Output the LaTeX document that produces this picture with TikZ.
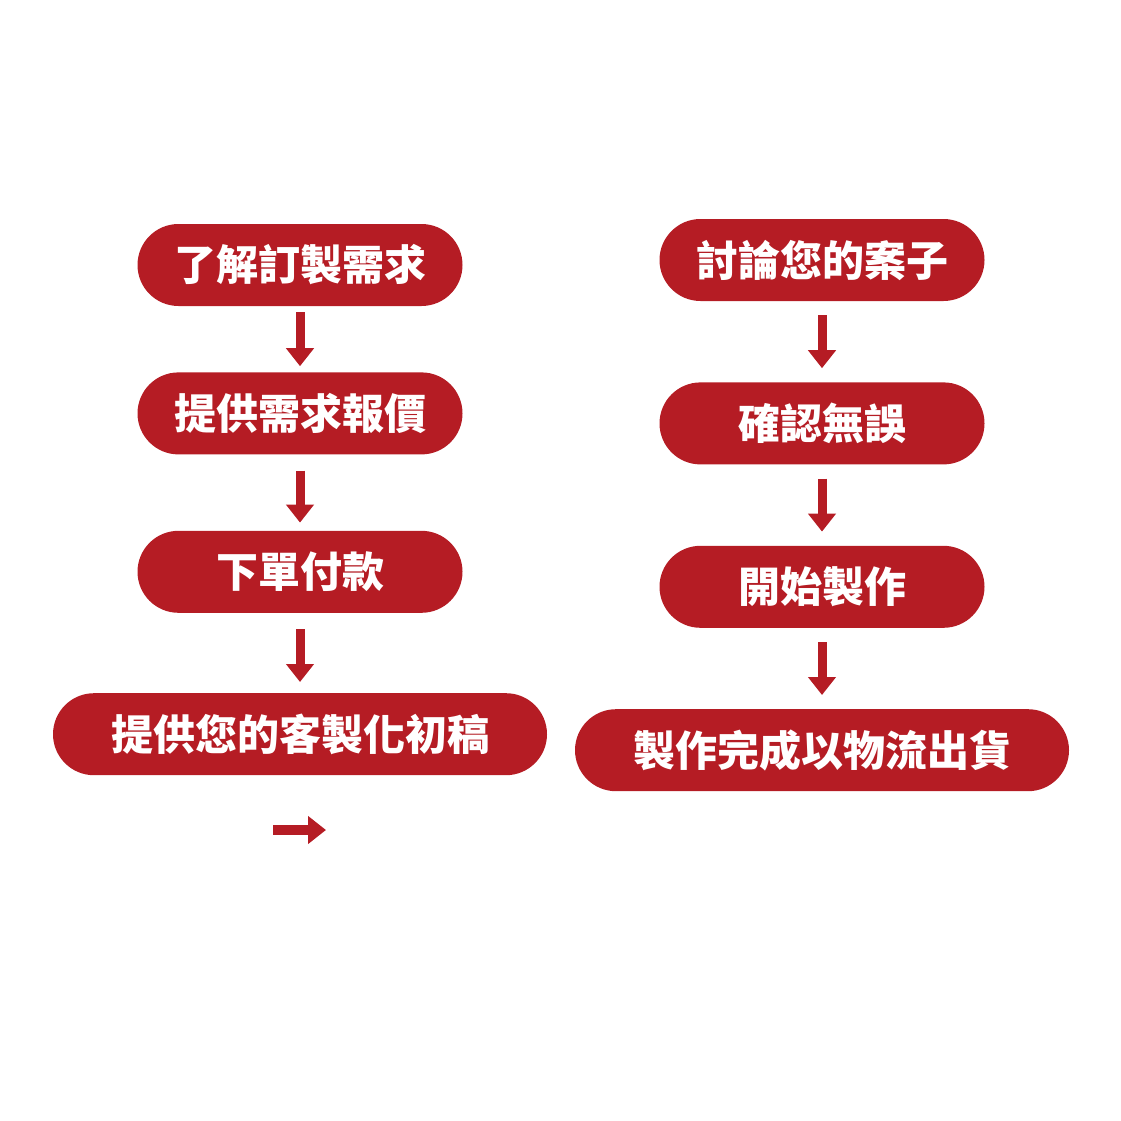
\documentclass[tikz,border=0pt]{standalone}
\usepackage{fontspec}
\usepackage{xcolor}
\newfontfamily\cjk{Noto Sans CJK TC}
\usetikzlibrary{arrows.meta, positioning}
\definecolor{pillred}{RGB}{181,28,36}

\begin{document}
\begin{tikzpicture}[x=1pt, y=-1pt,
    pill/.style={fill=pillred, text=white, rounded corners=41pt, inner sep=0pt,
        minimum width=325pt, minimum height=82pt, font=\cjk\bfseries\fontsize{42}{42}\selectfont},
    widepill/.style={pill, minimum width=494pt},
    flow/.style={pillred, line width=9pt, -{Triangle[width=27pt, length=18pt]},
        shorten <=6pt, shorten >=6pt},
    longgap/.style={flow, shorten <=14pt, shorten >=14pt}]
    \useasboundingbox (0,0) rectangle (1121,1121);
    % left column
    \node[pill] (p1) at (300,265) {了解訂製需求};
    \node[pill, below=66pt of p1] (p2) {提供需求報價};
    \node[pill, below=76pt of p2] (p3) {下單付款};
    \node[widepill, below=80pt of p3] (p4) {提供您的客製化初稿};
    % right column
    \node[pill] (q1) at (822,260) {討論您的案子};
    \node[pill, below=81pt of q1] (q2) {確認無誤};
    \node[pill, below=81pt of q2] (q3) {開始製作};
    \node[widepill, below=81pt of q3] (q4) {製作完成以物流出貨};
    \draw[flow] (p1) -- (p2);
    \draw[flow, shorten <=16pt, shorten >=8pt] (p2) -- (p3);
    \draw[flow, shorten <=16pt, shorten >=11pt] (p3) -- (p4);
    \draw[longgap] (q1) -- (q2);
    \draw[longgap] (q2) -- (q3);
    \draw[longgap] (q3) -- (q4);
    % lone arrow under the left column
    \coordinate (a) at (273,830);
    \coordinate (b) at (326,830);
    \draw[flow, line width=10pt, shorten <=0pt, shorten >=0pt] (a) -- (b);
\end{tikzpicture}
\end{document}
